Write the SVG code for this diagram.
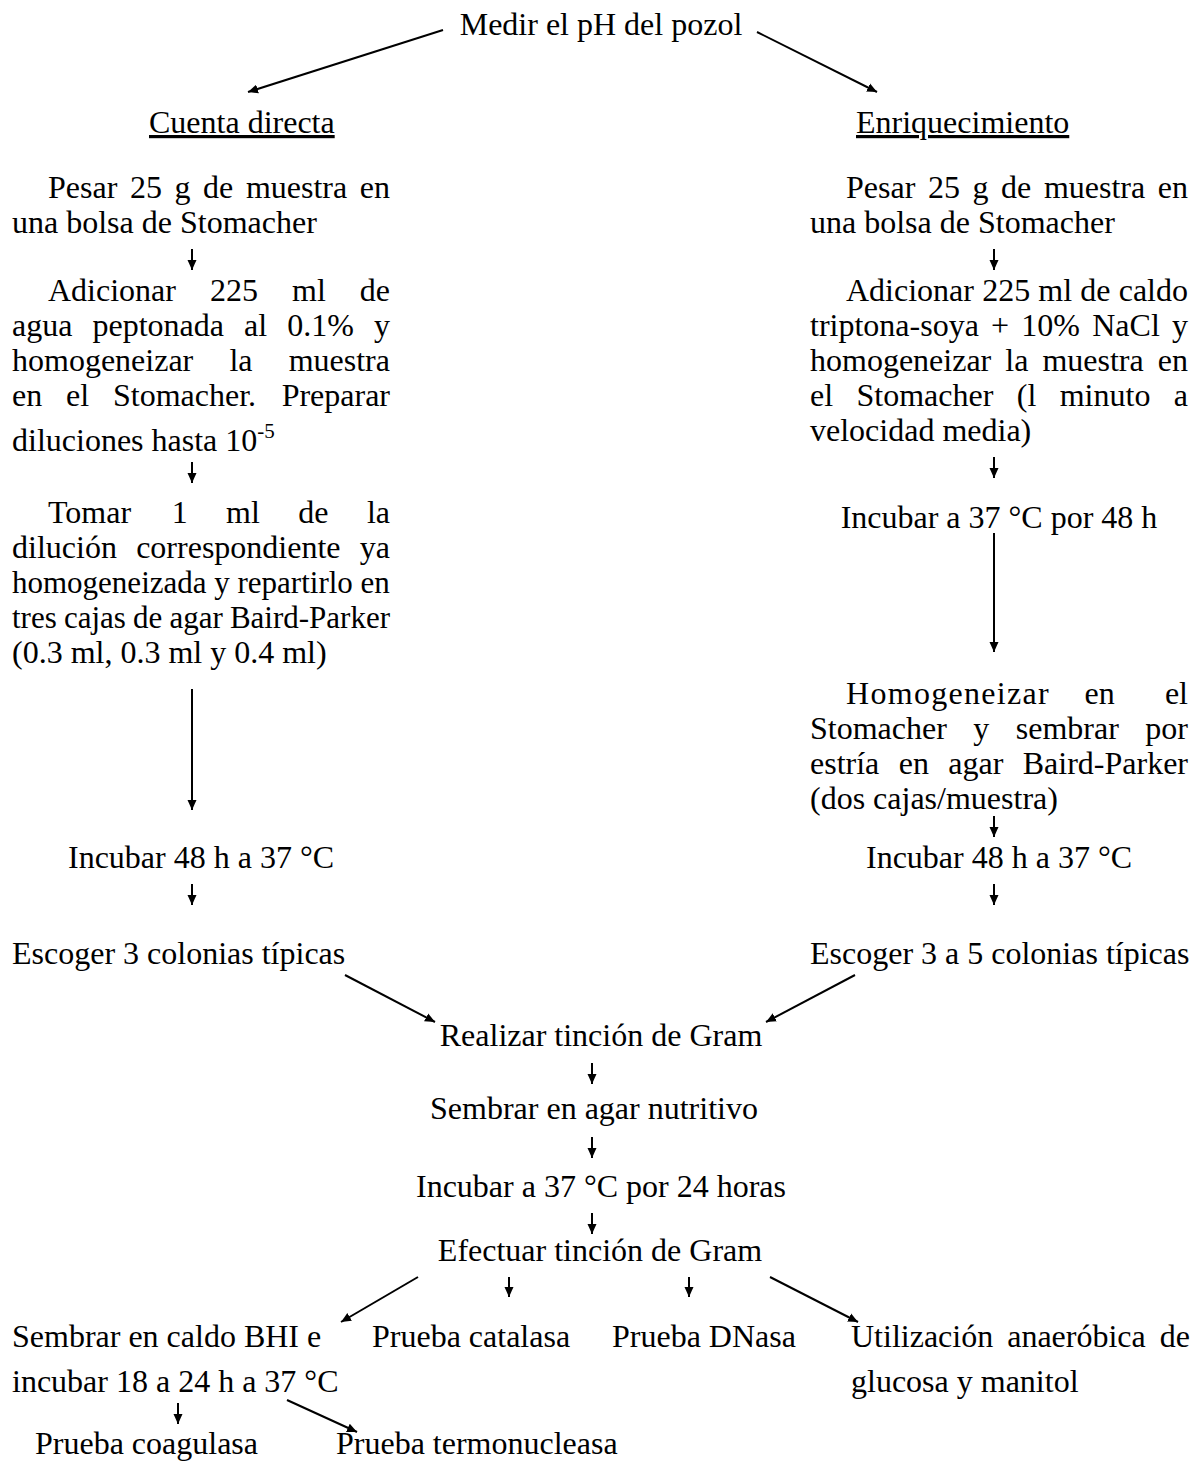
<svg xmlns="http://www.w3.org/2000/svg" width="1199" height="1464" viewBox="0 0 1199 1464">
<style>
text{font-family:"Liberation Serif","Times New Roman",serif;font-size:32px;fill:#000}
.m{text-anchor:middle}
.t{font-size:31px}
.c line{stroke:#000;stroke-width:2;fill:none;marker-end:url(#ah)}
</style>
<defs>
<marker id="ah" markerUnits="userSpaceOnUse" markerWidth="11" markerHeight="10" refX="10" refY="5" orient="auto">
<path d="M0,0.5 L10,5 L0,9.5 z" fill="#000"/>
</marker>
</defs>
<rect width="1199" height="1464" fill="#fff"/>

<g id="n-medir"><text class="m" x="601" y="35">Medir el pH del pozol</text></g>
<g id="n-cuenta"><text x="149" y="133" text-decoration="underline">Cuenta directa</text></g>
<g id="n-enriq"><text x="856" y="133" text-decoration="underline">Enriquecimiento</text></g>

<g id="n-l-pesar">
<text y="198"><tspan x="48">Pesar</tspan><tspan x="129.9">25</tspan><tspan x="174.49">g</tspan><tspan x="203.08">de</tspan><tspan x="245.88">muestra</tspan><tspan x="359.78">en</tspan></text>
<text x="12" y="233">una bolsa de Stomacher</text>
</g>
<g id="n-l-adicionar">
<text y="301"><tspan x="48">Adicionar</tspan><tspan x="209.98">225</tspan><tspan x="291.99">ml</tspan><tspan x="359.79">de</tspan></text>
<text y="336"><tspan x="12">agua</tspan><tspan x="92.5">peptonada</tspan><tspan x="244.09">al</tspan><tspan x="287.27">0.1%</tspan><tspan x="374">y</tspan></text>
<text y="371"><tspan x="12">homogeneizar</tspan><tspan x="229.38">la</tspan><tspan x="288.68">muestra</tspan></text>
<text y="406"><tspan x="12">en</tspan><tspan x="66.03">el</tspan><tspan x="112.95">Stomacher.</tspan><tspan x="281.63">Preparar</tspan></text>
<text x="12" y="451">diluciones hasta 10<tspan dy="-13" font-size="21">-5</tspan></text>
</g>
<g id="n-l-tomar">
<text y="523"><tspan x="48">Tomar</tspan><tspan x="171.71">1</tspan><tspan x="226.11">ml</tspan><tspan x="298.3">de</tspan><tspan x="366.91">la</tspan></text>
<text y="558"><tspan x="12">dilución</tspan><tspan x="136.16">correspondiente</tspan><tspan x="359.8">ya</tspan></text>
<text class="t" y="593"><tspan x="12">homogeneizada</tspan><tspan x="214.2">y</tspan><tspan x="237.5">repartirlo</tspan><tspan x="360.6">en</tspan></text>
<text class="t" y="628"><tspan x="12">tres</tspan><tspan x="63.9">cajas</tspan><tspan x="133.01">de</tspan><tspan x="169.41">agar</tspan><tspan x="229.9">Baird-Parker</tspan></text>
<text x="12" y="663">(0.3 ml, 0.3 ml y 0.4 ml)</text>
</g>
<g id="n-l-incubar"><text x="68" y="868">Incubar 48 h a 37 °C</text></g>
<g id="n-l-escoger"><text x="12" y="964">Escoger 3 colonias típicas</text></g>

<g id="n-r-pesar">
<text y="198"><tspan x="846">Pesar</tspan><tspan x="927.9">25</tspan><tspan x="972.49">g</tspan><tspan x="1001.08">de</tspan><tspan x="1043.88">muestra</tspan><tspan x="1157.78">en</tspan></text>
<text x="810" y="233">una bolsa de Stomacher</text>
</g>
<g id="n-r-adicionar">
<text y="301"><tspan x="846">Adicionar</tspan><tspan x="982.15">225</tspan><tspan x="1038.33">ml</tspan><tspan x="1080.3">de</tspan><tspan x="1118.69">caldo</tspan></text>
<text y="336"><tspan x="810">triptona-soya</tspan><tspan x="991.08">+</tspan><tspan x="1021.35">10%</tspan><tspan x="1092.23">NaCl</tspan><tspan x="1172">y</tspan></text>
<text y="371"><tspan x="810">homogeneizar</tspan><tspan x="1005.25">la</tspan><tspan x="1042.42">muestra</tspan><tspan x="1157.8">en</tspan></text>
<text y="406"><tspan x="810">el</tspan><tspan x="856.5">Stomacher</tspan><tspan x="1016.76">(l</tspan><tspan x="1059.71">minuto</tspan><tspan x="1173.8">a</tspan></text>
<text x="810" y="441">velocidad media)</text>
</g>
<g id="n-r-incubar1"><text class="m" x="999" y="528">Incubar a 37 °C por 48 h</text></g>
<g id="n-r-homog">
<text y="704"><tspan x="846" letter-spacing="1.3">Homogeneizar</tspan><tspan x="1084.49">en</tspan><tspan x="1164.9">el</tspan></text>
<text y="739"><tspan x="810">Stomacher</tspan><tspan x="973.33">y</tspan><tspan x="1015.8">sembrar</tspan><tspan x="1145.34">por</tspan></text>
<text y="774"><tspan x="810">estría</tspan><tspan x="898.69">en</tspan><tspan x="948.28">agar</tspan><tspan x="1022.73">Baird-Parker</tspan></text>
<text x="810" y="809">(dos cajas/muestra)</text>
</g>
<g id="n-r-incubar2"><text x="866" y="868">Incubar 48 h a 37 °C</text></g>
<g id="n-r-escoger"><text x="810" y="964">Escoger 3 a 5 colonias típicas</text></g>

<g id="n-realizar"><text class="m" x="601" y="1046">Realizar tinción de Gram</text></g>
<g id="n-sembrar"><text class="m" x="594" y="1119">Sembrar en agar nutritivo</text></g>
<g id="n-incubar24"><text class="m" x="601" y="1197">Incubar a 37 °C por 24 horas</text></g>
<g id="n-efectuar"><text class="m" x="600" y="1261">Efectuar tinción de Gram</text></g>

<g id="n-bhi">
<text x="12" y="1347">Sembrar en caldo BHI e</text>
<text x="12" y="1392">incubar 18 a 24 h a 37 °C</text>
</g>
<g id="n-catalasa"><text x="372" y="1347">Prueba catalasa</text></g>
<g id="n-dnasa"><text x="612" y="1347">Prueba DNasa</text></g>
<g id="n-util">
<text y="1347"><tspan x="851">Utilización</tspan><tspan x="1007.21">anaeróbica</tspan><tspan x="1159.8">de</tspan></text>
<text x="851" y="1392">glucosa y manitol</text>
</g>
<g id="n-coag"><text x="35" y="1454">Prueba coagulasa</text></g>
<g id="n-termo"><text x="336" y="1454">Prueba termonucleasa</text></g>

<g id="connectors" class="c">
<line x1="443" y1="30" x2="248" y2="92"/>
<line x1="757" y1="32" x2="877" y2="92"/>
<line x1="192" y1="249" x2="192" y2="270"/>
<line x1="192" y1="462" x2="192" y2="483"/>
<line x1="192" y1="689" x2="192" y2="810"/>
<line x1="192" y1="884" x2="192" y2="905"/>
<line x1="994" y1="249" x2="994" y2="270"/>
<line x1="994" y1="457" x2="994" y2="478"/>
<line x1="994" y1="533" x2="994" y2="652"/>
<line x1="994" y1="816" x2="994" y2="837"/>
<line x1="994" y1="884" x2="994" y2="905"/>
<line x1="345" y1="975" x2="435" y2="1022"/>
<line x1="855" y1="975" x2="766" y2="1022"/>
<line x1="592" y1="1063" x2="592" y2="1084"/>
<line x1="592" y1="1137" x2="592" y2="1158"/>
<line x1="592" y1="1213" x2="592" y2="1234"/>
<line x1="418" y1="1277" x2="341" y2="1322"/>
<line x1="509" y1="1277" x2="509" y2="1297"/>
<line x1="689" y1="1277" x2="689" y2="1297"/>
<line x1="770" y1="1277" x2="858" y2="1322"/>
<line x1="178" y1="1403" x2="178" y2="1424"/>
<line x1="287" y1="1400" x2="357" y2="1432"/>
</g>
</svg>
